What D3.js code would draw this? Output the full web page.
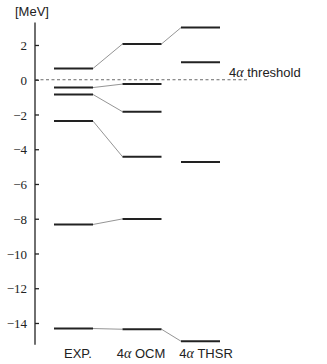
<!DOCTYPE html>
<html>
<head>
<meta charset="utf-8">
<script src="https://cdn.jsdelivr.net/npm/d3@7"></script>
<style>
  body { margin: 0; background: #fff; }
  svg { display: block; }
</style>
</head>
<body>
<svg width="327" height="364"></svg>
<script>
var svg = d3.select("svg"),
    width = +svg.attr("width"),
    height = +svg.attr("height");

// energy levels in MeV, one list per column
var columns = ["EXP.", "4α OCM", "4α THSR"];
var exp_levels = [0.65, -0.45, -0.85, -2.38, -8.33, -14.32];
var ocm_levels = [2.06, -0.25, -1.84, -4.43, -8.01, -14.36];
var thsr_levels = [3.0, 1.0, -4.73, -15.05];
var levels = [exp_levels, ocm_levels, thsr_levels];

// which level joins which: [fromColumn, fromLevel, toColumn, toLevel]
var links = [
  [0, 0, 1, 0], [0, 1, 1, 1], [0, 2, 1, 2], [0, 3, 1, 3], [0, 4, 1, 4], [0, 5, 1, 5],
  [1, 0, 2, 0], [1, 5, 2, 3]
];

var y_ticks = [2, 0, -2, -4, -6, -8, -10, -12, -14];
var threshold = 0;

var y = d3.scaleLinear().domain([3.3, -15.25]).range([22.4, 344.7]);
var x = d3.scaleLinear().domain([0, 1, 2]).range([73.5, 142, 200.5]);
var half = 19.5;
var axis_x = 35;

// y axis, ticks pointing inward
var axis = svg.append("g")
    .attr("transform", "translate(" + axis_x + ",0)")
    .attr("font-family", "'Liberation Serif', 'Times New Roman', serif")
    .call(d3.axisRight(y).tickValues(y_ticks).tickSize(4).tickFormat(d3.format("d")));
axis.select(".domain").attr("d", "M0," + y.range()[0] + "V" + y.range()[1])
    .attr("stroke", "#222").attr("stroke-width", 1.3);
axis.selectAll(".tick line").attr("stroke", "#222").attr("stroke-width", 1.3);
axis.selectAll(".tick text")
    .attr("x", -8)
    .attr("dy", "0.35em")
    .attr("text-anchor", "end")
    .attr("fill", "#222")
    .style("font-family", "'Liberation Serif', 'Times New Roman', serif")
    .style("font-size", "13px");

svg.append("text")
    .attr("x", 15).attr("y", 16)
    .style("font-family", "'Liberation Sans', Arial, sans-serif")
    .style("font-size", "13px")
    .attr("fill", "#222")
    .text("[MeV]");

// threshold line
svg.append("line")
    .attr("x1", axis_x).attr("x2", 248)
    .attr("y1", y(threshold)).attr("y2", y(threshold))
    .attr("stroke", "#444").attr("stroke-width", 0.8)
    .attr("stroke-dasharray", "3,2.5");

var th = svg.append("text")
    .attr("x", 229).attr("y", 77)
    .style("font-family", "'Liberation Sans', Arial, sans-serif")
    .style("font-size", "13px")
    .attr("fill", "#222");
th.append("tspan").text("4");
th.append("tspan").text("α").style("font-style", "italic")
    .style("font-family", "'Liberation Serif', serif").style("font-size", "14px");
th.append("tspan").text(" threshold");

// connectors
svg.append("g").selectAll("line")
    .data(links)
    .enter().append("line")
    .attr("x1", function(d) { return x(d[0]) + half; })
    .attr("y1", function(d) { return y(levels[d[0]][d[1]]); })
    .attr("x2", function(d) { return x(d[2]) - half; })
    .attr("y2", function(d) { return y(levels[d[2]][d[3]]); })
    .attr("stroke", "#888")
    .attr("stroke-width", 0.9);

// levels
levels.forEach(function(col, i) {
  svg.append("g").selectAll("line")
      .data(col)
      .enter().append("line")
      .attr("x1", x(i) - half)
      .attr("x2", x(i) + half)
      .attr("y1", function(d) { return y(d); })
      .attr("y2", function(d) { return y(d); })
      .attr("stroke", "#222")
      .attr("stroke-width", 2);
});

// column labels
var label_dx = [4.5, -1, 5.5];
columns.forEach(function(c, i) {
  var t = svg.append("text")
      .attr("x", x(i) + label_dx[i]).attr("y", 358)
      .attr("text-anchor", "middle")
      .style("font-family", "'Liberation Sans', Arial, sans-serif")
      .style("font-size", "13px")
      .attr("fill", "#222");
  if (c.charAt(1) === "α") {
    t.append("tspan").text("4");
    t.append("tspan").text("α").style("font-style", "italic")
        .style("font-family", "'Liberation Serif', serif").style("font-size", "14px");
    t.append("tspan").text(c.slice(2));
  } else {
    t.text(c);
  }
});
</script>
</body>
</html>
